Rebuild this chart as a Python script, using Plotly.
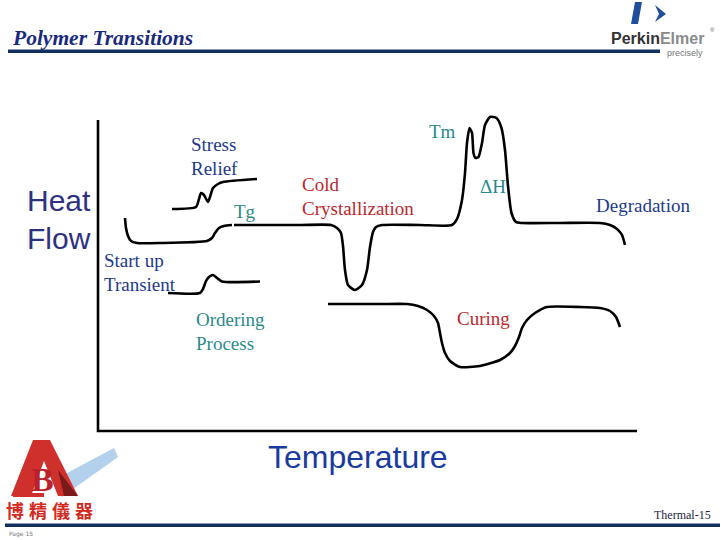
import plotly.graph_objects as go

# ---- curve data (pixel-like schematic units) ----
stress_x = [172, 196, 199, 201, 204, 208, 210, 213, 218, 223, 257]
stress_y = [209, 207, 199, 193, 195, 202, 197, 188, 184, 182, 179]

tg_x = [125, 126, 128, 131, 137, 160, 207, 212, 215, 219, 224, 232]
tg_y = [218, 228, 236, 241, 243, 243, 241, 238, 233, 228, 226, 225]

main_x = [234, 300, 331, 337, 341, 343, 345, 348, 355, 362, 367, 370, 373, 376, 382,
          420, 452, 457, 462, 465, 467, 469.5, 472, 473.5, 475.5, 478.5, 482, 485, 490,
          496.5, 501.5, 505, 508, 511.5, 516, 522, 560, 600, 610, 617, 622, 625]
main_y = [225, 225, 225, 228, 233, 246, 270, 285, 290, 285, 270, 247, 232, 227, 225,
          225, 225, 219, 200, 173, 143, 128, 133, 153, 158, 157, 143, 125, 117,
          118, 128, 150, 186, 213, 222, 223, 223, 223, 225, 229, 235, 245]

order_x = [168, 200, 203, 206, 209, 213, 217, 222, 260]
order_y = [293, 293, 289, 281, 277, 275, 278, 281.5, 281.5]

curing_x = [328, 380, 407, 418, 427, 434, 438, 440, 442, 445, 450, 460, 480, 500, 510,
            515, 519, 522, 527, 535, 547, 580, 600, 610, 616, 620]
curing_y = [304, 304, 304, 306, 310, 316, 323, 333, 343, 353, 361, 367, 366, 360, 353,
            346, 337, 328, 320, 313, 307, 307, 308, 311, 317, 327]

axis_x = [98, 98, 637]
axis_y = [120, 431, 431]

NAVY = "#1d3a8c"
TEAL = "#2a8a8a"
RED = "#c0272d"

# labels: text, x, y, color, anchor
labels = [
    ("Stress", 189, 144, NAVY, "left"),
    ("Relief", 189, 168, NAVY, "left"),
    ("Tg", 232, 211, TEAL, "left"),
    ("Cold", 300, 184, RED, "left"),
    ("Crystallization", 300, 208, RED, "left"),
    ("Tm", 427, 131, TEAL, "left"),
    ("ΔH", 478, 186, TEAL, "left"),
    ("Degradation", 594, 205, NAVY, "left"),
    ("Start up", 102, 260, NAVY, "left"),
    ("Transient", 102, 284, NAVY, "left"),
    ("Ordering", 194, 319, TEAL, "left"),
    ("Process", 194, 343, TEAL, "left"),
    ("Curing", 455, 318, RED, "left"),
]

cjk_chars = ["博", "精", "儀", "器"]
cjk_x = [15, 38, 61, 84]

fig = go.Figure()

line_style = dict(color="black", width=2.6, shape="spline", smoothing=0.6)
for xs, ys in [(stress_x, stress_y), (tg_x, tg_y), (main_x, main_y),
               (order_x, order_y), (curing_x, curing_y)]:
    fig.add_trace(go.Scatter(x=xs, y=ys, mode="lines", line=line_style,
                             hoverinfo="skip", showlegend=False))

fig.add_trace(go.Scatter(x=axis_x, y=axis_y, mode="lines",
                         line=dict(color="black", width=2.6),
                         hoverinfo="skip", showlegend=False))

ann = []
for t, x, y, c, a in labels:
    ann.append(dict(x=x, y=y, text=t, showarrow=False, xanchor=a, yanchor="middle",
                    font=dict(family="Liberation Serif", size=19, color=c)))

ann.append(dict(x=25, y=200, text="Heat", showarrow=False, xanchor="left", yanchor="middle",
                font=dict(family="Liberation Sans", size=30, color="#2e3182")))
ann.append(dict(x=25, y=238, text="Flow", showarrow=False, xanchor="left", yanchor="middle",
                font=dict(family="Liberation Sans", size=30, color="#2e3182")))
ann.append(dict(x=358, y=457, text="Temperature", showarrow=False, xanchor="center", yanchor="middle",
                font=dict(family="Liberation Sans", size=32, color="#1a3aa0")))
ann.append(dict(x=10, y=38, text="<b><i>Polymer Transitions</i></b>", showarrow=False,
                xanchor="left", yanchor="middle",
                font=dict(family="Liberation Serif", size=21.5, color="#1a2a80")))
ann.append(dict(x=713, y=515, text="Thermal-15", showarrow=False, xanchor="right", yanchor="middle",
                font=dict(family="Liberation Serif", size=12, color="#1a2440")))
ann.append(dict(x=7, y=534, text="Page 15", showarrow=False, xanchor="left", yanchor="middle",
                font=dict(family="DejaVu Sans", size=6, color="#777777")))
# PerkinElmer logo text
ann.append(dict(x=609, y=38, text="<b>Perkin</b><span style='color:#8a8a8a'><b>Elmer</b></span>",
                showarrow=False, xanchor="left", yanchor="middle",
                font=dict(family="Liberation Sans", size=16, color="#333333")))
ann.append(dict(x=708, y=30, text="®", showarrow=False, xanchor="left", yanchor="middle",
                font=dict(family="Liberation Sans", size=6, color="#666666")))
ann.append(dict(x=705, y=53, text="precisely", showarrow=False, xanchor="right", yanchor="middle",
                font=dict(family="Liberation Sans", size=9, color="#777777")))
for ch, cx in zip(cjk_chars, cjk_x):
    ann.append(dict(x=cx, y=510, text="<b>" + ch + "</b>", showarrow=False, xanchor="center",
                    yanchor="middle", font=dict(family="Noto Sans CJK TC", size=18, color="#d42a1e")))
ann.append(dict(x=42, y=479, text="<b>B</b>", showarrow=False, xanchor="center", yanchor="middle",
                font=dict(family="Liberation Serif", size=34, color="#b8222a")))

shapes = [
    # title bar
    dict(type="rect", x0=8, x1=660, y0=49.5, y1=53, fillcolor="#12305e", line_width=0, layer="below"),
    # bottom bar
    dict(type="rect", x0=5, x1=720, y0=523.5, y1=527, fillcolor="#12305e", line_width=0, layer="below"),
    # PerkinElmer mark
    dict(type="path", path="M 635 2 L 642 2 L 638 24 L 631 24 Z", fillcolor="#1f4e9a", line_width=0),
    dict(type="path", path="M 655 5 L 666 14 L 655 22 L 659 14 Z", fillcolor="#1f4e9a", line_width=0),
    # light blue beam
    dict(type="path", path="M 52 481 L 62 497 L 118 457 L 114 448 Z",
         fillcolor="rgba(160,198,232,0.8)", line_width=0, layer="below"),
    # red A (right leg darker)
    dict(type="path", path="M 11 496 L 33 440 L 50 440 L 78 496 L 58 496 L 44 461 L 31 496 Z",
         fillcolor="#d0302c", line_width=0, layer="below"),
    dict(type="path", path="M 58 470 L 78 496 L 64 496 Z",
         fillcolor="#7a1a1a", line_width=0, layer="below"),
    dict(type="rect", x0=13, x1=44, y0=493, y1=497, fillcolor="#d0302c", line_width=0, layer="below"),
]

fig.update_layout(
    width=720, height=540,
    margin=dict(l=0, r=0, t=0, b=0),
    paper_bgcolor="white", plot_bgcolor="white",
    xaxis=dict(range=[0, 720], visible=False, fixedrange=True),
    yaxis=dict(range=[540, 0], visible=False, fixedrange=True),
    annotations=ann, shapes=shapes, showlegend=False,
)

fig.write_html("out.html", config={"displayModeBar": False},
               post_script="document.body.style.margin='0';document.body.style.overflow='hidden';")
